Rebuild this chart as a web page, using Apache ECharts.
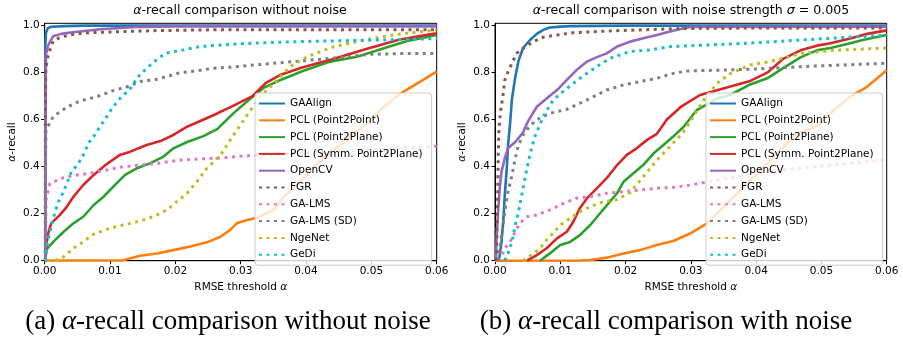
<!DOCTYPE html>
<html><head><meta charset="utf-8">
<script src="https://cdn.jsdelivr.net/npm/echarts@6/dist/echarts.min.js"></script>
<style>html,body{margin:0;padding:0;background:#fff}#c{width:903px;height:337px}</style>
</head><body><div id="c"></div>
<script>
const seriesNames = ['GAAlign','PCL (Point2Point)','PCL (Point2Plane)','PCL (Symm. Point2Plane)','OpenCV','FGR','GA-LMS','GA-LMS (SD)','NgeNet','GeDi'];
const xTickValues = [0,0.01,0.02,0.03,0.04,0.05,0.06];
const yTickValues = [0,0.2,0.4,0.6,0.8,1.0];

// ---- (a) without noise ----
const L_GAAlign = [[0.0001,0],[0.0001,0.92],[0.0002,0.97],[0.0005,0.99],[0.001,0.995],[0.003,0.998],[0.006,1.0],[0.06,1.0]];
const L_P2P = [[0,0.001],[0.012,0.002],[0.0146,0.021],[0.0172,0.031],[0.0197,0.045],[0.0223,0.06],[0.0248,0.078],[0.0269,0.102],[0.0284,0.131],[0.0294,0.159],[0.031,0.173],[0.0325,0.183],[0.035,0.216],[0.0366,0.272],[0.039,0.33],[0.0417,0.414],[0.0442,0.471],[0.0468,0.528],[0.0494,0.585],[0.0519,0.655],[0.0545,0.712],[0.0571,0.755],[0.06,0.804]];
const L_P2Plane = [[0.0001,0],[0.0002,0.03],[0.0004,0.053],[0.0013,0.08],[0.0029,0.123],[0.0044,0.159],[0.0059,0.187],[0.0075,0.237],[0.009,0.272],[0.0105,0.315],[0.0123,0.365],[0.0141,0.393],[0.0161,0.414],[0.0182,0.443],[0.0197,0.478],[0.0218,0.505],[0.0243,0.53],[0.0264,0.56],[0.029,0.63],[0.0315,0.69],[0.0335,0.735],[0.036,0.768],[0.0396,0.808],[0.0437,0.847],[0.0478,0.868],[0.0524,0.908],[0.0555,0.935],[0.06,0.96]];
const L_Symm = [[0.0001,0],[0.0002,0.07],[0.0003,0.08],[0.0006,0.123],[0.001,0.159],[0.0023,0.194],[0.0034,0.23],[0.0044,0.272],[0.0059,0.322],[0.0075,0.365],[0.0093,0.407],[0.0115,0.45],[0.0131,0.464],[0.0156,0.492],[0.0177,0.509],[0.0197,0.535],[0.0218,0.57],[0.0259,0.62],[0.0289,0.66],[0.0318,0.70],[0.0338,0.755],[0.036,0.79],[0.0394,0.822],[0.044,0.857],[0.0491,0.90],[0.0542,0.94],[0.0594,0.965],[0.06,0.966]];
const L_OpenCV = [[0.0001,0],[0.0001,0.6],[0.0002,0.88],[0.0005,0.915],[0.0013,0.955],[0.0025,0.965],[0.0043,0.972],[0.0085,0.985],[0.0146,0.995],[0.02,0.997],[0.06,0.997]];
const L_FGR = [[0.0001,0],[0.0001,0.55],[0.00015,0.8],[0.0003,0.84],[0.0006,0.884],[0.001,0.91],[0.0013,0.935],[0.0025,0.952],[0.0044,0.963],[0.0069,0.970],[0.012,0.975],[0.0172,0.979],[0.0274,0.983],[0.04,0.983],[0.06,0.983]];
const L_GALMS = [[0.0001,0],[0.0002,0.258],[0.0008,0.329],[0.0029,0.353],[0.0044,0.362],[0.0069,0.372],[0.0095,0.386],[0.012,0.40],[0.0146,0.407],[0.0172,0.414],[0.0207,0.428],[0.0238,0.433],[0.0274,0.438],[0.031,0.447],[0.0443,0.464],[0.06,0.487]];
const L_GALMS_SD = [[0.0001,0],[0.0001,0.4],[0.0002,0.556],[0.0013,0.613],[0.0034,0.653],[0.0054,0.68],[0.008,0.698],[0.0103,0.722],[0.0126,0.74],[0.0146,0.762],[0.0172,0.772],[0.0207,0.80],[0.0233,0.808],[0.0258,0.819],[0.0289,0.824],[0.033,0.835],[0.0381,0.847],[0.0442,0.862],[0.0498,0.878],[0.0545,0.881],[0.06,0.882]];
const L_NgeNet = [[0.0005,0],[0.0023,0.005],[0.0029,0.017],[0.0044,0.053],[0.0059,0.08],[0.0072,0.109],[0.0085,0.123],[0.01,0.138],[0.012,0.152],[0.0146,0.169],[0.0166,0.187],[0.0187,0.216],[0.0202,0.251],[0.0218,0.287],[0.0233,0.336],[0.0248,0.393],[0.0259,0.421],[0.0271,0.457],[0.0284,0.514],[0.031,0.62],[0.033,0.698],[0.0356,0.769],[0.0376,0.826],[0.0402,0.868],[0.0443,0.911],[0.0494,0.942],[0.0545,0.965],[0.06,0.982]];
const L_GeDi = [[0.0001,0],[0.0002,0.02],[0.0004,0.075],[0.0013,0.18],[0.0021,0.251],[0.0027,0.283],[0.0034,0.329],[0.0041,0.379],[0.005,0.407],[0.0057,0.438],[0.0068,0.504],[0.0075,0.528],[0.0082,0.559],[0.0095,0.613],[0.0103,0.649],[0.011,0.672],[0.0118,0.70],[0.0127,0.719],[0.0133,0.74],[0.0141,0.776],[0.0149,0.80],[0.0166,0.843],[0.0184,0.882],[0.0212,0.897],[0.0238,0.911],[0.0274,0.918],[0.0296,0.923],[0.0387,0.932],[0.0514,0.939],[0.06,0.945]];

// ---- (b) with noise sigma = 0.005 ----
const R_GAAlign = [[0.0005,0],[0.00066,0.011],[0.001,0.08],[0.0013,0.18],[0.0015,0.28],[0.0018,0.393],[0.002,0.49],[0.0023,0.58],[0.0026,0.69],[0.0031,0.78],[0.0036,0.85],[0.0043,0.905],[0.0054,0.94],[0.0064,0.965],[0.0074,0.982],[0.0084,0.992],[0.01,0.996],[0.0115,0.998],[0.02,1.0],[0.06,1.0]];
const R_P2P = [[0,0],[0.013,0.001],[0.0146,0.003],[0.0171,0.013],[0.0197,0.031],[0.0222,0.045],[0.0248,0.067],[0.0273,0.084],[0.03,0.117],[0.0325,0.159],[0.034,0.2],[0.0366,0.272],[0.0391,0.343],[0.0417,0.414],[0.0442,0.485],[0.0463,0.542],[0.0493,0.57],[0.0519,0.641],[0.0544,0.698],[0.057,0.74],[0.06,0.81]];
const R_P2Plane = [[0.0069,0],[0.0084,0.031],[0.01,0.067],[0.0115,0.08],[0.013,0.109],[0.0146,0.152],[0.0161,0.202],[0.0176,0.251],[0.0187,0.287],[0.0197,0.336],[0.0212,0.372],[0.0227,0.407],[0.0243,0.457],[0.0258,0.492],[0.0273,0.528],[0.0289,0.57],[0.0309,0.641],[0.034,0.69],[0.036,0.705],[0.0391,0.75],[0.0417,0.776],[0.0442,0.82],[0.0468,0.865],[0.0493,0.895],[0.0514,0.905],[0.0544,0.925],[0.0565,0.94],[0.06,0.96]];
const R_Symm = [[0.0049,0],[0.0064,0.024],[0.0079,0.053],[0.0095,0.095],[0.011,0.123],[0.012,0.166],[0.013,0.223],[0.0141,0.266],[0.0156,0.308],[0.0171,0.351],[0.0187,0.407],[0.0202,0.45],[0.0217,0.478],[0.0233,0.514],[0.0248,0.54],[0.0263,0.6],[0.0284,0.653],[0.0314,0.705],[0.034,0.725],[0.0366,0.745],[0.0391,0.765],[0.0417,0.80],[0.0442,0.86],[0.0468,0.895],[0.0493,0.915],[0.0514,0.925],[0.0544,0.945],[0.057,0.965],[0.06,0.98]];
const R_OpenCV = [[0.00015,0],[0.00026,0.109],[0.0005,0.223],[0.00077,0.322],[0.001,0.379],[0.0015,0.436],[0.002,0.478],[0.0031,0.505],[0.0043,0.545],[0.0049,0.585],[0.0064,0.655],[0.0079,0.69],[0.0095,0.726],[0.011,0.769],[0.0125,0.811],[0.0141,0.847],[0.0156,0.866],[0.0171,0.882],[0.0187,0.911],[0.0207,0.932],[0.0227,0.946],[0.0248,0.96],[0.0268,0.975],[0.0289,0.989],[0.03,0.994],[0.06,0.996]];
const R_FGR = [[0.0002,0],[0.0004,0.25],[0.0005,0.45],[0.0006,0.55],[0.0008,0.627],[0.0012,0.698],[0.0015,0.769],[0.002,0.804],[0.0026,0.84],[0.0033,0.882],[0.0043,0.904],[0.0059,0.932],[0.0074,0.951],[0.0095,0.96],[0.012,0.97],[0.0171,0.977],[0.0222,0.982],[0.0288,0.988],[0.04,0.99],[0.06,0.99]];
const R_GALMS = [[0.0005,0],[0.001,0.02],[0.0015,0.053],[0.0023,0.08],[0.0031,0.123],[0.0038,0.159],[0.0049,0.187],[0.0064,0.194],[0.0084,0.216],[0.0105,0.244],[0.0125,0.266],[0.0146,0.272],[0.0171,0.287],[0.0197,0.294],[0.0222,0.301],[0.0248,0.308],[0.0273,0.312],[0.03,0.322],[0.034,0.343],[0.0442,0.386],[0.06,0.43]];
const R_GALMS_SD = [[0.0005,0],[0.001,0.109],[0.0015,0.208],[0.002,0.294],[0.0026,0.365],[0.0031,0.436],[0.0036,0.492],[0.0043,0.535],[0.0054,0.575],[0.0064,0.60],[0.0084,0.627],[0.011,0.644],[0.0141,0.684],[0.0171,0.726],[0.0197,0.748],[0.0222,0.762],[0.0248,0.776],[0.0273,0.797],[0.0294,0.807],[0.0386,0.814],[0.0488,0.828],[0.06,0.84]];
const R_NgeNet = [[0.0043,0],[0.0059,0.031],[0.0069,0.053],[0.0079,0.088],[0.0089,0.117],[0.01,0.152],[0.0115,0.18],[0.013,0.208],[0.0146,0.23],[0.0166,0.251],[0.0187,0.26],[0.0207,0.29],[0.0227,0.357],[0.0248,0.428],[0.0268,0.485],[0.0289,0.549],[0.032,0.684],[0.034,0.755],[0.036,0.795],[0.0391,0.833],[0.0417,0.845],[0.0442,0.861],[0.0468,0.882],[0.0519,0.895],[0.06,0.905]];
const R_GeDi = [[0.0015,0],[0.002,0.031],[0.0026,0.08],[0.0031,0.152],[0.0036,0.208],[0.0041,0.28],[0.0046,0.351],[0.0051,0.421],[0.0056,0.478],[0.0061,0.528],[0.0074,0.613],[0.0089,0.684],[0.011,0.733],[0.013,0.776],[0.0156,0.826],[0.0176,0.861],[0.0207,0.89],[0.0238,0.897],[0.0268,0.911],[0.0294,0.914],[0.0386,0.925],[0.0488,0.942],[0.06,0.96]];

const leftData = [L_GAAlign,L_P2P,L_P2Plane,L_Symm,L_OpenCV,L_FGR,L_GALMS,L_GALMS_SD,L_NgeNet,L_GeDi];
const rightData = [R_GAAlign,R_P2P,R_P2Plane,R_Symm,R_OpenCV,R_FGR,R_GALMS,R_GALMS_SD,R_NgeNet,R_GeDi];
const colors = ['#1f77b4','#ff7f0e','#2ca02c','#d62728','#9467bd','#8c564b','#e377c2','#7f7f7f','#bcbd22','#17becf'];
const dotted = [false,false,false,false,false,true,true,true,true,true];

const FONT = 'DejaVu Sans';
const FS = 10.5;

function makeSeries(data, gi){
  return data.map((d,i)=>({
    type:'line', name: seriesNames[i], xAxisIndex: gi, yAxisIndex: gi,
    data: d, showSymbol:false, symbol:'none', animation:false, clip:true,
    lineStyle: dotted[i] ? {color:colors[i], width:3, type:[3,4.5], cap:'butt'} : {color:colors[i], width:2.6, cap:'butt', join:'round'},
    itemStyle:{color:colors[i]}
  }));
}
function makeX(gi){
  return {type:'value', gridIndex:gi, min:0, max:0.06,
    name:'RMSE threshold {i|α}', nameLocation:'middle', nameGap:20,
    nameTextStyle:{fontFamily:FONT, fontSize:FS, color:'#000', rich:{i:{fontFamily:FONT,fontStyle:'italic',fontSize:FS,color:'#000'}}},
    axisLine:{show:true, onZero:false, lineStyle:{color:'#000', width:1}},
    axisTick:{show:true, length:3.5, inside:false, customValues:xTickValues, lineStyle:{color:'#000', width:1}},
    axisLabel:{customValues:xTickValues, margin:5, fontFamily:FONT, fontSize:FS, color:'#000', formatter:v=>v.toFixed(2)},
    splitLine:{show:false}};
}
function makeY(gi){
  return {type:'value', gridIndex:gi, min:0, max:1.01,
    name:'{i|α}-recall', nameLocation:'middle', nameGap:27,
    nameTextStyle:{fontFamily:FONT, fontSize:FS, color:'#000', rich:{i:{fontFamily:FONT,fontStyle:'italic',fontSize:FS,color:'#000'}}},
    axisLine:{show:true, onZero:false, lineStyle:{color:'#000', width:1}},
    axisTick:{show:true, length:3.5, inside:false, customValues:yTickValues, lineStyle:{color:'#000', width:1}},
    axisLabel:{customValues:yTickValues, margin:5, fontFamily:FONT, fontSize:FS, color:'#000', formatter:v=>v.toFixed(1)},
    splitLine:{show:false}};
}
function makeLegend(left){
  return {show:true, orient:'vertical', left:left, top:93, data:seriesNames,
    itemWidth:26, itemHeight:10, itemGap:5.8, padding:[5,9,5,3],
    backgroundColor:'rgba(255,255,255,0.8)', borderColor:'#cccccc', borderWidth:1, borderRadius:3,
    selectedMode:false,
    itemStyle:{opacity:0, borderWidth:0},
    textStyle:{fontFamily:FONT, fontSize:FS, color:'#000'}};
}
const titleRich = {i:{fontFamily:FONT, fontStyle:'italic', fontSize:12.6, color:'#000'}, n:{fontFamily:FONT, fontSize:12.6, color:'#000'}};
const capRich = {i:{fontFamily:'Liberation Serif', fontStyle:'italic', fontSize:27, fill:'#000'}};

const chart = echarts.init(document.getElementById('c'), null, {renderer:'canvas'});
chart.setOption({
  animation:false,
  backgroundColor:'#fff',
  title:[
    {text:'{i|α}{n|-recall comparison without noise}', left:240, top:4, textAlign:'center', padding:0, textStyle:{fontFamily:FONT, fontSize:12.6, fontWeight:'normal', color:'#000', rich:titleRich}},
    {text:'{i|α}{n|-recall comparison with noise strength }{i|σ}{n| = 0.005}', left:691, top:4, textAlign:'center', padding:0, textStyle:{fontFamily:FONT, fontSize:12.6, fontWeight:'normal', color:'#000', rich:titleRich}}
  ],
  grid:[
    {left:44.7, right:466.3, top:23.3, bottom:76.3, show:true, borderColor:'#000', borderWidth:1, backgroundColor:'transparent'},
    {left:495, right:16.3, top:23.3, bottom:76.3, show:true, borderColor:'#000', borderWidth:1, backgroundColor:'transparent'}
  ],
  xAxis:[makeX(0), makeX(1)],
  yAxis:[makeY(0), makeY(1)],
  legend:[makeLegend(255), makeLegend(706)],
  series: makeSeries(leftData,0).concat(makeSeries(rightData,1)),
  graphic:[
    {type:'text', x:228, y:322, style:{text:'(a) {i|α}-recall comparison without noise', rich:capRich, font:'27px "Liberation Serif"', fill:'#000', textAlign:'center', textVerticalAlign:'middle'}},
    {type:'text', x:666, y:322, style:{text:'(b) {i|α}-recall comparison with noise', rich:capRich, font:'27px "Liberation Serif"', fill:'#000', textAlign:'center', textVerticalAlign:'middle'}}
  ]
});
</script></body></html>
